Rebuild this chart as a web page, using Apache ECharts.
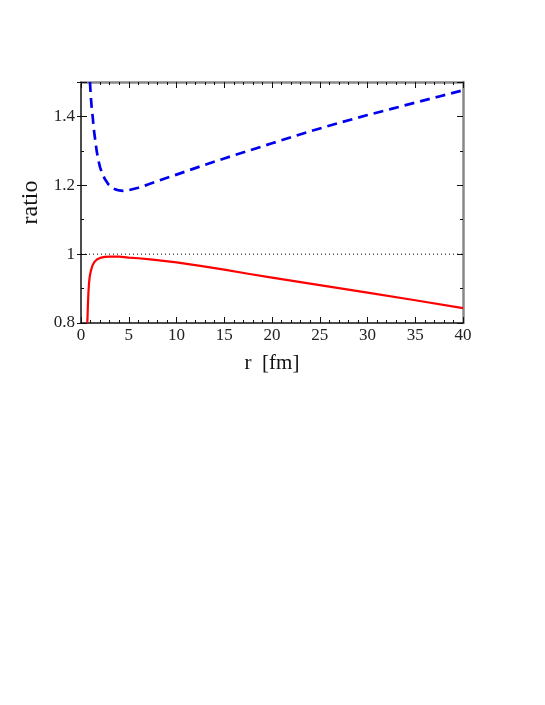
<!DOCTYPE html>
<html>
<head>
<meta charset="utf-8">
<script src="https://cdn.jsdelivr.net/npm/echarts@6/dist/echarts.min.js"></script>
<style>
  html, body { margin: 0; padding: 0; background: #fff; }
  #chart { width: 545px; height: 705px; }
</style>
</head>
<body>
<div id="chart"></div>
<script>
// r values in fm and the two ratio curves
const blueR = [0.94, 1.0, 1.05, 1.12, 1.22, 1.3, 1.4, 1.52, 1.64, 1.8, 2.0, 2.2, 2.5, 2.86, 3.2, 3.6, 4.0, 4.4, 5, 6, 7, 8, 10, 12.5, 15, 17.5, 20, 22.5, 25, 27.5, 30, 32.5, 35, 37.5, 40];
const blueRatio = [1.5, 1.47, 1.45, 1.425, 1.40, 1.375, 1.35, 1.325, 1.30, 1.275, 1.252, 1.236, 1.218, 1.203, 1.194, 1.188, 1.185, 1.184, 1.186, 1.193, 1.202, 1.212, 1.231, 1.255, 1.278, 1.300, 1.322, 1.344, 1.365, 1.385, 1.404, 1.422, 1.440, 1.458, 1.476];

const redR = [0.66, 0.68, 0.70, 0.72, 0.75, 0.78, 0.84, 0.9, 0.95, 1.05, 1.2, 1.4, 1.7, 2, 2.5, 3, 4, 5, 6, 7.5, 10, 12.5, 15, 17.5, 20, 25, 30, 35, 40];
const redRatio = [0.8, 0.815, 0.83, 0.85, 0.87, 0.89, 0.916, 0.932, 0.94, 0.953, 0.967, 0.977, 0.985, 0.989, 0.992, 0.993, 0.993, 0.990, 0.988, 0.984, 0.976, 0.966, 0.955, 0.943, 0.932, 0.910, 0.888, 0.866, 0.843];

const refR = [0, 40];
const refRatio = [1, 1];

const xTicks = [0, 5, 10, 15, 20, 25, 30, 35, 40];
const yTickLabels = { '0.8': '0.8', '1': '1', '1.2': '1.2', '1.4': '1.4' };

const pairs = (xs, ys) => xs.map((x, i) => [x, ys[i]]);

const chart = echarts.init(document.getElementById('chart'));
const font = 'Liberation Serif';
// left/bottom frame is dark, top/right is grey and a bit heavier
const darkLine = { show: true, onZero: false, lineStyle: { color: '#111', width: 1.5 } };
const greyLine = { show: true, onZero: false, lineStyle: { color: '#888', width: 2.5 } };
const ticks = { show: true, inside: true, length: 6, lineStyle: { color: '#111', width: 1 } };
const minorX = { show: true, splitNumber: 5, length: 3, lineStyle: { color: '#111' } };
const minorY = { show: true, splitNumber: 2, length: 3, lineStyle: { color: '#111' } };

chart.setOption({
  animation: false,
  grid: { left: 81, top: 82, right: 82, bottom: 382 },
  xAxis: [{
    type: 'value', position: 'bottom', min: 0, max: 40, interval: 5,
    name: 'r  [fm]', nameLocation: 'middle', nameGap: 30,
    nameTextStyle: { fontFamily: font, fontSize: 21, color: '#111' },
    axisLine: darkLine, axisTick: ticks, minorTick: minorX,
    axisLabel: { fontFamily: font, fontSize: 17, color: '#222', margin: 4,
      formatter: v => xTicks.includes(v) ? String(v) : '' },
    splitLine: { show: false }
  }, {
    type: 'value', position: 'top', min: 0, max: 40, interval: 5,
    axisLine: greyLine, axisTick: ticks, minorTick: minorX,
    axisLabel: { show: false }, splitLine: { show: false }
  }],
  yAxis: [{
    type: 'value', position: 'left', min: 0.8, max: 1.5, interval: 0.2,
    name: 'ratio', nameLocation: 'middle', nameGap: 31,
    nameTextStyle: { fontFamily: font, fontSize: 24, color: '#111' },
    axisLine: darkLine, axisTick: ticks, minorTick: minorY,
    axisLabel: { fontFamily: font, fontSize: 17, color: '#222', margin: 6,
      formatter: v => yTickLabels[String(+v.toFixed(1))] || '' },
    splitLine: { show: false }
  }, {
    type: 'value', position: 'right', min: 0.8, max: 1.5, interval: 0.2,
    axisLine: greyLine, axisTick: ticks, minorTick: minorY,
    axisLabel: { show: false }, splitLine: { show: false }
  }, {
    // outer half of the left major ticks, which cross the frame
    type: 'value', position: 'left', offset: 0, min: 0.8, max: 1.5, interval: 0.2,
    axisLine: { show: false },
    axisTick: { show: true, inside: false, length: 4, lineStyle: { color: '#111', width: 1 } },
    axisLabel: { show: false }, splitLine: { show: false }
  }],
  series: [{
    type: 'line', data: pairs(refR, refRatio), symbol: 'none',
    lineStyle: { color: '#000', width: 1, type: [1, 3] }, z: 1
  }, {
    type: 'line', data: pairs(blueR, blueRatio), symbol: 'none',
    lineStyle: { color: '#0000ee', width: 2.7, type: [10, 6], join: 'round' }
  }, {
    type: 'line', data: pairs(redR, redRatio), symbol: 'none',
    lineStyle: { color: '#ff0000', width: 2.2, join: 'round' }
  }]
});
</script>
</body>
</html>
